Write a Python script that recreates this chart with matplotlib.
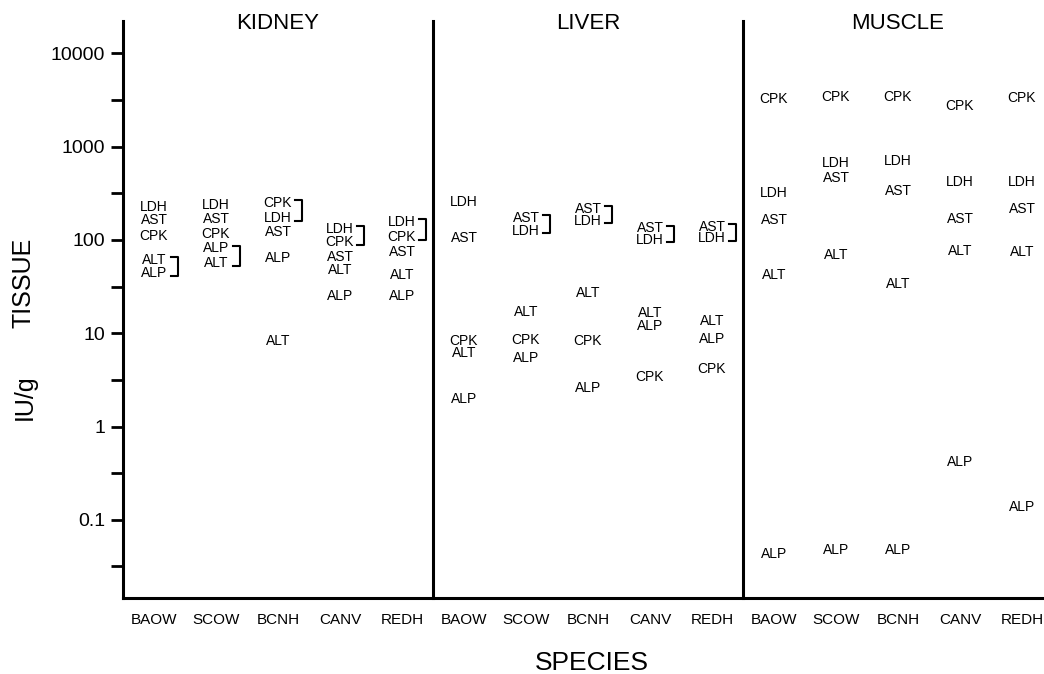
import matplotlib
matplotlib.use("Agg")
import matplotlib.pyplot as plt
from matplotlib.ticker import NullFormatter
import matplotlib.transforms as mtransforms

plt.rcParams['font.family'] = ['Liberation Sans', 'DejaVu Sans']

# ---------------- data ----------------
species = ["BAOW", "SCOW", "BCNH", "CANV", "REDH"]
tissues = ["KIDNEY", "LIVER", "MUSCLE"]
enzymes = ["LDH", "AST", "CPK", "ALT", "ALP"]

kidney = {
    "LDH": [227, 237, 171, 132, 157],
    "AST": [163, 166, 121, 66, 74],
    "CPK": [111, 115, 250, 94, 108],
    "ALT": [61, 56, 8.2, 48, 42],
    "ALP": [44, 81, 64, 25, 25],
}
liver = {
    "LDH": [253, 126, 161, 101, 105],
    "AST": [106, 171, 214, 133, 138],
    "CPK": [8.3, 8.5, 8.2, 3.4, 4.1],
    "ALT": [6.1, 16.7, 26.8, 16.3, 13.6],
    "ALP": [1.97, 5.4, 2.6, 12.0, 8.6],
}
muscle = {
    "LDH": [321, 672, 701, 421, 421],
    "AST": [163, 457, 337, 166, 213],
    "CPK": [3236, 3377, 3377, 2723, 3296],
    "ALT": [42, 69, 34, 77, 75],
    "ALP": [0.043, 0.048, 0.048, 0.42, 0.136],
}

# brackets: (species, enzyme, enzyme) grouped values
kidney_brackets = [("BAOW", "ALT", "ALP"), ("SCOW", "ALP", "ALT"),
                   ("BCNH", "CPK", "LDH"), ("CANV", "LDH", "CPK"),
                   ("REDH", "LDH", "CPK")]
liver_brackets = [("SCOW", "AST", "LDH"), ("BCNH", "AST", "LDH"),
                  ("CANV", "AST", "LDH"), ("REDH", "AST", "LDH")]
muscle_brackets = []

y_major = [0.1, 1, 10, 100, 1000, 10000]
y_major_labels = ["0.1", "1", "10", "100", "1000", "10000"]
y_minor = [0.0316, 0.316, 3.16, 31.6, 316, 3162]

# ---------------- figure ----------------
W, H = 1044, 674
fig = plt.figure(figsize=(W / 100, H / 100), dpi=100)
ax = fig.add_axes([123 / W, 76 / H, 930 / W, 577 / H])

ax.set_yscale('log')
ax.set_ylim(0.01452, 22200)
n = len(species)
ax.set_xlim(0, n * len(tissues))

LW = 2.2
for side in ['top', 'right']:
    ax.spines[side].set_visible(False)
for side in ['left', 'bottom']:
    ax.spines[side].set_linewidth(LW)
for k in range(1, len(tissues)):
    ax.axvline(k * n, color='black', lw=LW, clip_on=False)

ax.set_yticks(y_major, y_major_labels)
ax.set_yticks(y_minor, minor=True)
ax.yaxis.set_minor_formatter(NullFormatter())
ax.tick_params(axis='y', which='both', direction='out', length=9,
               width=2, labelsize=14, pad=4)

xpos = [t * n + i + 0.5 for t in range(len(tissues)) for i in range(n)]
ax.set_xticks(xpos, species * len(tissues))
ax.tick_params(axis='x', length=0, labelsize=11, pad=11)

datasets = [kidney, liver, muscle]
brackets = [kidney_brackets, liver_brackets, muscle_brackets]
for t, (data, brs) in enumerate(zip(datasets, brackets)):
    for e in enzymes:
        for i, v in enumerate(data[e]):
            ax.text(t * n + i + 0.5, v, e, ha='center', va='center',
                    fontsize=10, clip_on=False)
    for sp, e1, e2 in brs:
        i = species.index(sp)
        ytop = max(data[e1][i], data[e2][i]) * 1.07
        ybot = min(data[e1][i], data[e2][i]) / 1.07
        xv = t * n + i + 0.5 + 0.38
        xs = xv - 0.1
        ax.plot([xs, xv, xv, xs], [ytop, ytop, ybot, ybot],
                color='black', lw=1.5, clip_on=False)

# panel titles
trans = mtransforms.blended_transform_factory(ax.transData, fig.transFigure)
for t, name in enumerate(tissues):
    ax.text(t * n + n / 2, 1 - 29 / H, name, transform=trans,
            ha='center', va='baseline', fontsize=16, clip_on=False)

# axis titles
fig.text(24 / W, 1 - 283 / H, "TISSUE", rotation=90, fontsize=18,
         ha='center', va='center')
fig.text(25 / W, 1 - 397 / H, "IU/g", rotation=90, fontsize=18,
         ha='center', va='center')
fig.text(592 / W, 1 - 670 / H, "SPECIES", fontsize=19,
         ha='center', va='baseline')

fig.savefig("out.png", dpi=100)
